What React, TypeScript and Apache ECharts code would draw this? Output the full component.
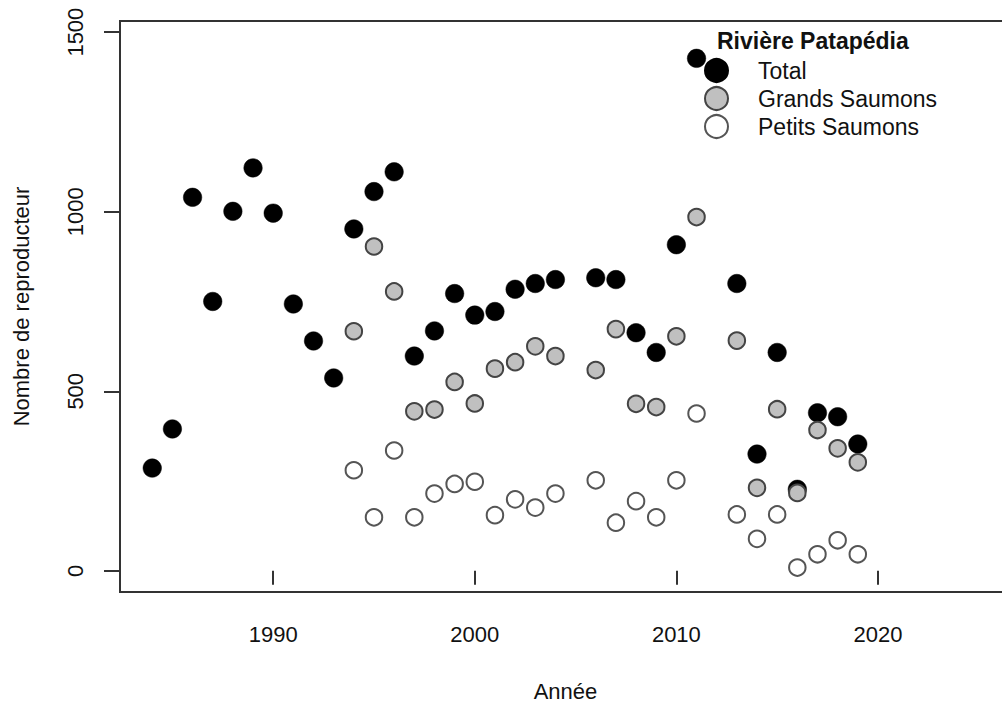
import React, { useEffect, useRef } from "react";
import * as echarts from "echarts";

const years = [
  1984, 1985, 1986, 1987, 1988, 1989, 1990, 1991, 1992, 1993, 1994, 1995,
  1996, 1997, 1998, 1999, 2000, 2001, 2002, 2003, 2004, 2006, 2007, 2008,
  2009, 2010, 2011, 2013, 2014, 2015, 2016, 2017, 2018, 2019,
];
const totalValues = [
  286, 395, 1040, 750, 1001, 1122, 996, 743, 640, 537, 952, 1056,
  1111, 598, 668, 772, 712, 722, 784, 800, 811, 816, 811, 663,
  608, 908, 1427, 800, 325, 608, 227, 440, 429, 353,
];
const grandsValues = [
  null, null, null, null, null, null, null, null, null, null, 667, 903,
  778, 444, 449, 526, 466, 563, 581, 625, 598, 559, 673, 465,
  456, 653, 985, 641, 231, 450, 217, 392, 341, 302,
];
const petitsValues = [
  null, null, null, null, null, null, null, null, null, null, 280, 149,
  335, 149, 215, 242, 248, 155, 199, 176, 215, 252, 134, 194,
  149, 252, 438, 157, 89, 157, 9, 46, 85, 46,
];
const xTicks = [1990, 2000, 2010, 2020];
const yTicks = [0, 500, 1000, 1500];
const seriesNames = ["Total", "Grands Saumons", "Petits Saumons"];
const legendTitle = "Rivière Patapédia";
const xTitle = "Année";
const yTitle = "Nombre de reproducteur";

const FONT = "'Liberation Sans', Arial, sans-serif";
const TEXT = "#111111";

function pairs(vals: (number | null)[]) {
  const out: number[][] = [];
  years.forEach((y, i) => {
    const v = vals[i];
    if (v !== null && v !== undefined) out.push([y, v]);
  });
  return out;
}

export default function App() {
  const ref = useRef<HTMLDivElement>(null);
  useEffect(() => {
    const chart = echarts.init(ref.current!, null, { renderer: "svg" });
    chart.setOption({
      animation: false,
      backgroundColor: "#ffffff",
      textStyle: { fontFamily: FONT },
      grid: {
        left: 120,
        top: 21,
        width: 891,
        height: 571,
        show: true,
        borderColor: "#333333",
        borderWidth: 2,
        backgroundColor: "transparent",
        outerBoundsMode: "none",
      },
      xAxis: {
        type: "value",
        min: 1982.4,
        max: 2026.6,
        splitLine: { show: false },
        axisLine: { show: false },
        axisTick: {
          show: true,
          length: 14,
          customValues: xTicks,
          lineStyle: { color: "#333333", width: 2 },
        },
        axisLabel: {
          customValues: xTicks,
          formatter: (v: number) => String(v),
          margin: 31,
          fontSize: 22,
          color: TEXT,
          fontFamily: FONT,
        },
        name: xTitle,
        nameLocation: "middle",
        nameGap: 88,
        nameTextStyle: { fontSize: 22, color: TEXT, fontFamily: FONT },
      },
      yAxis: {
        type: "value",
        min: -59,
        max: 1531,
        splitLine: { show: false },
        axisLine: { show: false },
        axisTick: {
          show: true,
          length: 16,
          customValues: yTicks,
          lineStyle: { color: "#333333", width: 2 },
        },
        axisLabel: {
          customValues: yTicks,
          formatter: (v: number) => String(v),
          rotate: 90,
          margin: 34,
          fontSize: 22,
          color: TEXT,
          fontFamily: FONT,
        },
        name: yTitle,
        nameLocation: "middle",
        nameRotate: 90,
        nameGap: 88,
        nameTextStyle: { fontSize: 22, color: TEXT, fontFamily: FONT },
      },
      legend: {
        orient: "vertical",
        left: 704,
        top: 58,
        padding: 0,
        itemWidth: 23,
        itemHeight: 23,
        itemGap: 3,
        icon: "circle",
        data: seriesNames,
        textStyle: {
          fontSize: 23,
          lineHeight: 23,
          color: TEXT,
          fontFamily: FONT,
          padding: [0, 0, 0, 25],
        },
      },
      graphic: [
        {
          type: "text",
          left: 717,
          top: 29,
          style: {
            text: legendTitle,
            fontSize: 23,
            fontWeight: "bold",
            fill: TEXT,
            fontFamily: FONT,
          },
        },
      ],
      series: [
        {
          name: seriesNames[0],
          type: "scatter",
          data: pairs(totalValues),
          symbol: "circle",
          symbolSize: 18.5,
          itemStyle: { color: "#000000", borderColor: "#000000", borderWidth: 0.5, opacity: 1 },
        },
        {
          name: seriesNames[1],
          type: "scatter",
          data: pairs(grandsValues),
          symbol: "circle",
          symbolSize: 16.5,
          itemStyle: { color: "#c0c0c0", borderColor: "#444444", borderWidth: 2, opacity: 1 },
        },
        {
          name: seriesNames[2],
          type: "scatter",
          data: pairs(petitsValues),
          symbol: "circle",
          symbolSize: 16.5,
          itemStyle: { color: "#ffffff", borderColor: "#555555", borderWidth: 2, opacity: 1 },
        },
      ],
    });
    return () => chart.dispose();
  }, []);
  return (
    <div
      style={{
        position: "fixed",
        left: 0,
        top: 0,
        width: 1002,
        height: 708,
        overflow: "hidden",
        background: "#ffffff",
      }}
    >
      <div ref={ref} style={{ width: 1020, height: 708 }} />
    </div>
  );
}
